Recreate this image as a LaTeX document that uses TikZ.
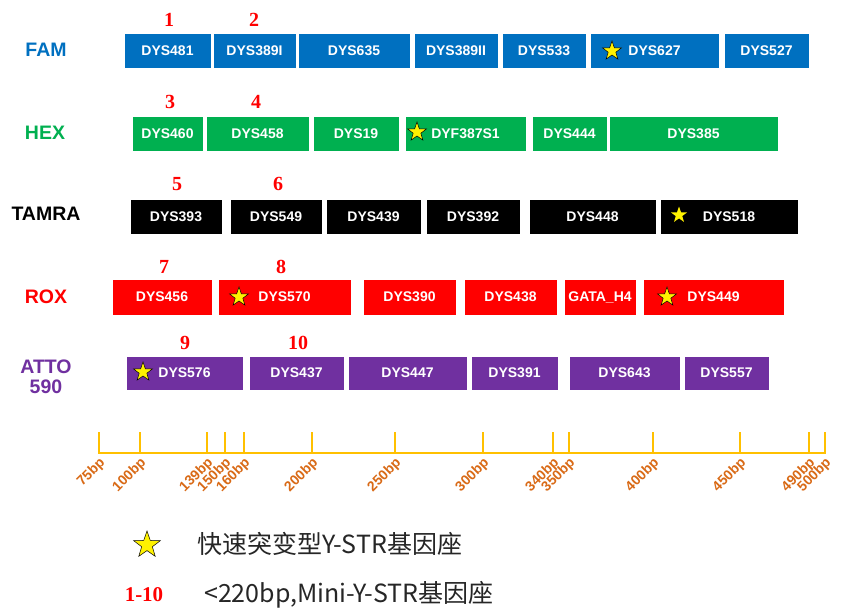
\documentclass[tikz,border=0pt]{standalone}
\usepackage{fontspec}
\setmainfont{Liberation Sans}
\newfontfamily\cjkf{Noto Sans CJK SC}
\newfontfamily\serifb{Liberation Serif}
\usetikzlibrary{shapes.geometric}
\definecolor{famc}{HTML}{0070C0}
\definecolor{hexc}{HTML}{00B050}
\definecolor{roxc}{HTML}{FF0000}
\definecolor{attoc}{HTML}{7030A0}
\definecolor{axisc}{HTML}{FFC000}
\definecolor{axlab}{HTML}{D96A16}
\definecolor{legc}{HTML}{262626}
\newcommand\gbox[7]{%
  \node[genebox, fill=#6, minimum width={(#3-#2)*1pt}, minimum height={(#5-#4)*1pt}] (#1) at ({(#2+#3)/2},{(#4+#5)/2}) {#7};}
\newcommand\tick[3]{%
  \coordinate (#1) at (#2,453);
  \draw[axisline] (#2,432) -- (#1);
  \node[axlabel] (l#1) at (#2+4,461) {#3};}
\begin{document}
\begin{tikzpicture}[x=1pt,y=-1pt,
  genebox/.style={rectangle, draw=white, line width=0.6pt, inner sep=0pt, text=white,
    font=\bfseries\fontsize{14}{14}\selectfont},
  dye/.style={font=\bfseries\fontsize{19.5}{19.5}\selectfont},
  num/.style={text=roxc, font=\serifb\bfseries\fontsize{20}{20}\selectfont},
  ystar/.style={star, star points=5, star point ratio=2.5, fill=yellow, draw=black,
    line width=0.5pt, minimum size=20pt, inner sep=0pt},
  axisline/.style={draw=axisc, line width=2pt},
  axlabel/.style={rotate=45, anchor=east, inner sep=0pt, text=axlab,
    font=\bfseries\fontsize{14}{14}\selectfont},
  legtext/.style={anchor=west, inner sep=0pt, text=legc, font=\cjkf\fontsize{25}{25}\selectfont}]
\useasboundingbox[fill=white] (0,0) rectangle (842,615);

% dye labels
\node[dye, text=famc] (fam) at (46,50) {FAM};
\node[dye, text=hexc] (hex) at (45,133) {HEX};
\node[dye, text=black] (tamra) at (46,214) {TAMRA};
\node[dye, text=roxc] (rox) at (46,297) {ROX};
\node[dye, text=attoc, align=center] (atto) at (46,377) {ATTO\\[1pt]590};

% FAM
\gbox{b481}{124}{211}{33}{68}{famc}{DYS481}
\gbox{b389i}{213}{296}{33}{68}{famc}{DYS389I}
\gbox{b635}{298}{410}{33}{68}{famc}{DYS635}
\gbox{b389ii}{414}{498}{33}{68}{famc}{DYS389II}
\gbox{b533}{502}{586}{33}{68}{famc}{DYS533}
\gbox{b627}{590}{719}{33}{68}{famc}{DYS627}
\gbox{b527}{724}{809}{33}{68}{famc}{DYS527}
% HEX
\gbox{b460}{132}{203}{116}{151}{hexc}{DYS460}
\gbox{b458}{206}{309}{116}{151}{hexc}{DYS458}
\gbox{b19}{313}{399}{116}{151}{hexc}{DYS19}
\gbox{b387}{405}{526}{116}{151}{hexc}{DYF387S1}
\gbox{b444}{532}{607}{116}{151}{hexc}{DYS444}
\gbox{b385}{609}{778}{116}{151}{hexc}{DYS385}
% TAMRA
\gbox{b393}{130}{222}{199}{234}{black}{DYS393}
\gbox{b549}{230}{322}{199}{234}{black}{DYS549}
\gbox{b439}{326}{421}{199}{234}{black}{DYS439}
\gbox{b392}{426}{520}{199}{234}{black}{DYS392}
\gbox{b448}{529}{656}{199}{234}{black}{DYS448}
\gbox{b518}{660}{798}{199}{234}{black}{DYS518}
% ROX
\gbox{b456}{112}{212}{279}{315}{roxc}{DYS456}
\gbox{b570}{218}{351}{279}{315}{roxc}{DYS570}
\gbox{b390}{363}{456}{279}{315}{roxc}{DYS390}
\gbox{b438}{464}{557}{279}{315}{roxc}{DYS438}
\gbox{bgata}{564}{636}{279}{315}{roxc}{GATA\_H4}
\gbox{b449}{643}{784}{279}{315}{roxc}{DYS449}
% ATTO 590
\gbox{b576}{126}{243}{356}{390}{attoc}{DYS576}
\gbox{b437}{249}{344}{356}{390}{attoc}{DYS437}
\gbox{b447}{348}{467}{356}{390}{attoc}{DYS447}
\gbox{b391}{471}{558}{356}{390}{attoc}{DYS391}
\gbox{b643}{569}{680}{356}{390}{attoc}{DYS643}
\gbox{b557}{684}{769}{356}{390}{attoc}{DYS557}

% stars in boxes
\node[ystar] (s627) at (612,51) {};
\node[ystar] (s387) at (417,132) {};
\node[ystar, draw=none, minimum size=17pt] (s518) at (679,215) {};
\node[ystar] (s570) at (239,297) {};
\node[ystar] (s449) at (667,297) {};
\node[ystar] (s576) at (143,372) {};

% mini-STR numbers
\node[num] (n1) at (169,20) {1};
\node[num] (n2) at (254,20) {2};
\node[num] (n3) at (170,102) {3};
\node[num] (n4) at (256,102) {4};
\node[num] (n5) at (177,184) {5};
\node[num] (n6) at (278,184) {6};
\node[num] (n7) at (164,267) {7};
\node[num] (n8) at (281,267) {8};
\node[num] (n9) at (185,343) {9};
\node[num] (n10) at (298,343) {10};

% axis
\tick{t75}{99}{75bp}
\tick{t100}{140}{100bp}
\tick{t139}{207}{139bp}
\tick{t150}{225}{150bp}
\tick{t160}{244}{160bp}
\tick{t200}{312}{200bp}
\tick{t250}{395}{250bp}
\tick{t300}{483}{300bp}
\tick{t340}{553}{340bp}
\tick{t350}{569}{350bp}
\tick{t400}{653}{400bp}
\tick{t450}{740}{450bp}
\tick{t490}{809}{490bp}
\tick{t500}{825}{500bp}
\draw[axisline, line cap=rect] (t75) -- (t500);

% legend
\node[ystar, minimum size=28pt] (legstar) at (147,545) {};
\node[legtext] (leg1) at (197,544) {快速突变型Y-STR基因座};
\node[num, font=\serifb\bfseries\fontsize{21}{21}\selectfont] (legnum) at (144,595) {1-10};
\node[legtext] (leg2) at (204,595) {<220bp,Mini-Y-STR基因座};
\end{tikzpicture}
\end{document}
